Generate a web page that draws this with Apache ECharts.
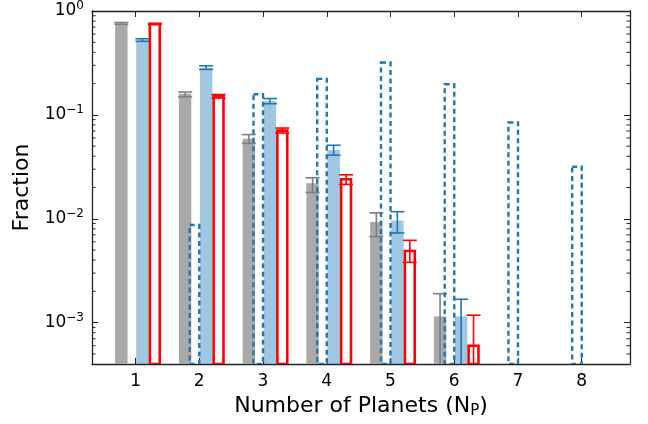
<!DOCTYPE html>
<html>
<head>
<meta charset="utf-8">
<script src="https://cdn.jsdelivr.net/npm/echarts@6/dist/echarts.min.js"></script>
<style>
html, body { margin: 0; padding: 0; background: #fff; }
#chart { width: 648px; height: 424px; }
</style>
</head>
<body>
<div id="chart"></div>
<script>
// number of planets per system
const nPlanets = [1, 2, 3, 4, 5, 6, 7, 8];

// grey filled bars
const grayFrac = [0.76, 0.160, 0.059, 0.022, 0.0093, 0.00115, null, null];
const grayLo = [0.745, 0.149, 0.0532, 0.0179, 0.00674, 0.0003, null, null];
const grayHi = [0.775, 0.166, 0.0646, 0.0248, 0.0114, 0.0019, null, null];

// light blue filled bars
const blueFrac = [0.525, 0.285, 0.135, 0.046, 0.0096, 0.00115, null, null];
const blueLo = [0.51, 0.274, 0.128, 0.041, 0.0073, 0.0003, null, null];
const blueHi = [0.54, 0.297, 0.1436, 0.051, 0.0117, 0.00168, null, null];

// red open bars
const redFrac = [0.75, 0.151, 0.0705, 0.024, 0.0049, 0.0006, null, null];
const redLo = [0.74, 0.145, 0.0668, 0.0214, 0.0038, 0.0002, null, null];
const redHi = [0.76, 0.157, 0.0747, 0.0265, 0.0062, 0.00118, null, null];

// blue dashed open bars
const dashFrac = [null, 0.0087, 0.158, 0.222, 0.319, 0.197, 0.0846, 0.0317];

const yMin = 0.0004, yMax = 1;
const xMin = 0.317, xMax = 8.757;

// minor ticks 2..9 x 10^k
const minorTicks = [];
for (let e = -4; e < 0; e++) {
  for (let k = 2; k <= 9; k++) {
    const v = k * Math.pow(10, e);
    if (v > yMin && v < yMax) minorTicks.push(v);
  }
}

const spine = "#222";

function barData(vals) {
  const out = [];
  nPlanets.forEach((n, i) => {
    if (vals[i] != null) out.push([n, vals[i]]);
  });
  return out;
}

function errData(lo, hi) {
  const out = [];
  nPlanets.forEach((n, i) => {
    if (lo[i] != null) out.push([n, lo[i], hi[i]]);
  });
  return out;
}

function barSeries(vals, off0, off1, style, z) {
  return {
    type: "custom",
    z: z,
    clip: true,
    data: barData(vals),
    renderItem(params, api) {
      const n = api.value(0);
      const v = api.value(1);
      const tl = api.coord([n + off0, v]);
      const br = api.coord([n + off1, yMin]);
      return {
        type: "rect",
        shape: { x: tl[0], y: tl[1], width: br[0] - tl[0], height: br[1] - tl[1] },
        style: style,
      };
    },
  };
}

function errSeries(lo, hi, off, color, z) {
  return {
    type: "custom",
    z: z,
    clip: true,
    data: errData(lo, hi),
    renderItem(params, api) {
      const n = api.value(0);
      const low = api.value(1);
      const high = api.value(2);
      const top = api.coord([n + off, high]);
      const bot = api.coord([n + off, Math.max(low, yMin)]);
      const st = { stroke: color, lineWidth: 1.6 };
      const kids = [
        { type: "line", shape: { x1: top[0], y1: top[1], x2: bot[0], y2: bot[1] }, style: st },
        { type: "line", shape: { x1: top[0] - 7, y1: top[1], x2: top[0] + 7, y2: top[1] }, style: st },
      ];
      if (low > yMin) {
        kids.push({ type: "line", shape: { x1: bot[0] - 7, y1: bot[1], x2: bot[0] + 7, y2: bot[1] }, style: st });
      }
      return { type: "group", children: kids };
    },
  };
}

const chart = echarts.init(document.getElementById("chart"));

chart.setOption({
  animation: false,
  textStyle: { fontFamily: "DejaVu Sans" },
  grid: { left: 92, right: 18, top: 9, bottom: 56 },
  xAxis: [
    {
      type: "value",
      min: xMin,
      max: xMax,
      name: "Number of Planets (N{sub|P})",
      nameLocation: "middle",
      nameGap: 30,
      nameTextStyle: {
        fontSize: 22,
        color: "#000",
        rich: { sub: { fontSize: 15, color: "#000", padding: [10, 0, 0, 0] } },
      },
      axisLine: { lineStyle: { color: spine, width: 1.3 } },
      axisTick: { inside: true, length: 6, customValues: nPlanets, lineStyle: { color: spine } },
      axisLabel: { customValues: nPlanets, fontSize: 17, color: "#000", margin: 9 },
      splitLine: { show: false },
    },
    {
      type: "value",
      position: "top",
      min: xMin,
      max: xMax,
      axisLine: { lineStyle: { color: spine, width: 1.3 } },
      axisTick: { inside: true, length: 6, customValues: nPlanets, lineStyle: { color: spine } },
      axisLabel: { show: false },
      splitLine: { show: false },
    },
  ],
  yAxis: [
    {
      type: "log",
      logBase: 10,
      min: yMin,
      max: yMax,
      name: "Fraction",
      nameLocation: "middle",
      nameGap: 48,
      nameTextStyle: { fontSize: 22, color: "#000" },
      axisLine: { show: true, lineStyle: { color: spine, width: 1.3 } },
      axisTick: { inside: true, length: 6, lineStyle: { color: spine } },
      axisLabel: {
        fontSize: 17,
        color: "#000",
        margin: 8,
        formatter(v) {
          const e = Math.round(Math.log10(v));
          if (Math.abs(Math.pow(10, e) - v) / v > 1e-6) return "";
          return "10{sup|" + (e < 0 ? "\u2212" + (-e) : e) + "}";
        },
        rich: { sup: { fontSize: 12, color: "#000", padding: [0, 0, 10, 0] } },
      },
      splitLine: { show: false },
    },
    {
      type: "log",
      logBase: 10,
      position: "right",
      min: yMin,
      max: yMax,
      axisLine: { show: true, lineStyle: { color: spine, width: 1.3 } },
      axisTick: { inside: true, length: 6, lineStyle: { color: spine } },
      axisLabel: { show: false },
      splitLine: { show: false },
    },
  ],
  series: [
    barSeries(grayFrac, -0.32, -0.125, { fill: "#a9a9a9" }, 2),
    barSeries(blueFrac, 0.01, 0.205, { fill: "rgba(31,119,180,0.42)" }, 2),
    errSeries(grayLo, grayHi, -0.2225, "#808080", 3),
    errSeries(blueLo, blueHi, 0.1075, "#1f77b4", 3),
    barSeries(dashFrac, -0.15, 0, { fill: "none", stroke: "#1f77b4", lineWidth: 2.4, lineDash: [5, 3.5] }, 4),
    barSeries(redFrac, 0.225, 0.38, { fill: "none", stroke: "#ff0000", lineWidth: 2.6 }, 5),
    errSeries(redLo, redHi, 0.3025, "#ff0000", 5),
    {
      type: "custom",
      z: 6,
      silent: true,
      data: minorTicks.map((v) => [xMin, v]),
      renderItem(params, api) {
        const y = api.coord([xMin, api.value(1)])[1];
        const cs = params.coordSys;
        const st = { stroke: spine, lineWidth: 1 };
        return {
          type: "group",
          children: [
            { type: "line", shape: { x1: cs.x, y1: y, x2: cs.x + 3.5, y2: y }, style: st },
            { type: "line", shape: { x1: cs.x + cs.width - 3.5, y1: y, x2: cs.x + cs.width, y2: y }, style: st },
          ],
        };
      },
    },
  ],
});
</script>
</body>
</html>
